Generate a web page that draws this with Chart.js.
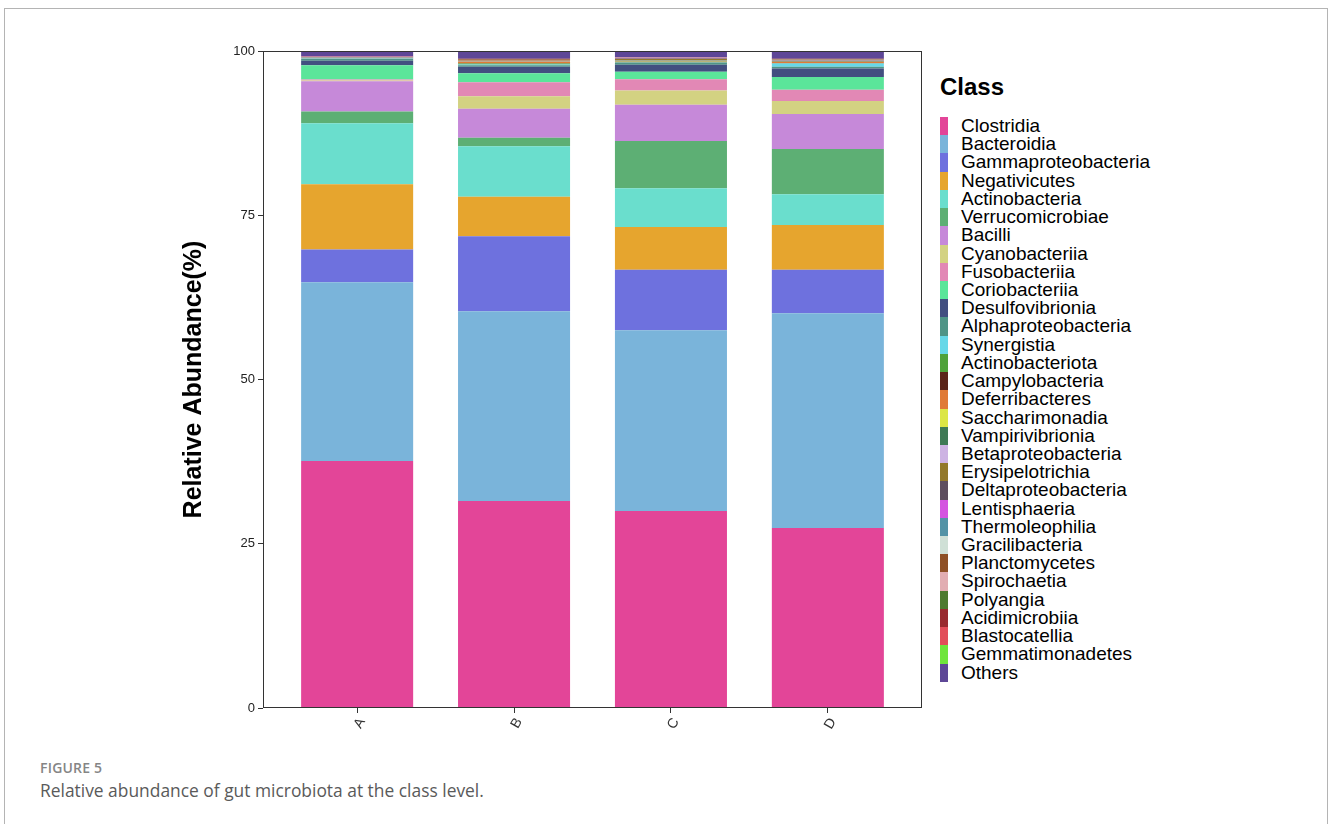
<!DOCTYPE html>
<html>
<head>
<meta charset="utf-8">
<script src="https://cdn.jsdelivr.net/npm/chart.js@4"></script>
<style>
  body { margin: 0; background: #fff; width: 1328px; height: 824px; overflow: hidden; position: relative; font-family: "Liberation Sans", Arial, sans-serif; }
  #frame { position: absolute; left: 4px; top: 8px; width: 1322px; height: 830px; border: 1px solid #b4b4b4; border-bottom: none; }
  #wrap { position: absolute; left: 170px; top: 40px; }
  #legend { position: absolute; left: 940px; top: 72px; color: #000; }
  #legend .ttl { font-weight: bold; font-size: 24px; line-height: 30px; margin-bottom: 15px; }
  #legend .row { position: relative; height: 18.23px; }
  #legend .key { position: absolute; left: 0; top: 0; width: 8px; height: 18.23px; }
  #legend .lbl { position: absolute; left: 21px; top: -1px; font-size: 19px; line-height: 19px; white-space: nowrap; }
  #cap1 { position: absolute; left: 40px; top: 758px; font-family: "Open Sans", sans-serif; font-size: 14px; font-weight: 600; color: #858585; letter-spacing: 0.2px; }
  #cap2 { position: absolute; left: 40px; top: 778px; font-family: "Open Sans", sans-serif; font-size: 17.4px; color: #5a5a5a; }
</style>
</head>
<body>
<div id="frame"></div>
<div id="wrap"><canvas id="abundanceChart" width="754" height="716"></canvas></div>
<div id="legend"></div>
<div id="cap1">FIGURE 5</div>
<div id="cap2">Relative abundance of gut microbiota at the class level.</div>
<script>
// groups on the x axis
const groups = ["A", "B", "C", "D"];
const yTicks = [0, 25, 50, 75, 100];

// class names, bottom of the stack first
const classNames = [
  "Clostridia", "Bacteroidia", "Gammaproteobacteria", "Negativicutes", "Actinobacteria",
  "Verrucomicrobiae", "Bacilli", "Cyanobacteriia", "Fusobacteriia", "Coriobacteriia",
  "Desulfovibrionia", "Alphaproteobacteria", "Synergistia", "Actinobacteriota", "Campylobacteria",
  "Deferribacteres", "Saccharimonadia", "Vampirivibrionia", "Betaproteobacteria", "Erysipelotrichia",
  "Deltaproteobacteria", "Lentisphaeria", "Thermoleophilia", "Gracilibacteria", "Planctomycetes",
  "Spirochaetia", "Polyangia", "Acidimicrobiia", "Blastocatellia", "Gemmatimonadetes", "Others"
];

const classColors = [
  "#E34598", "#7AB4DA", "#6E71DE", "#E6A52E", "#6ADECD",
  "#5DAF74", "#C689D9", "#D3D282", "#E288B5", "#5BE59A",
  "#424F80", "#4F9587", "#67D8E8", "#4FA23A", "#5B2419",
  "#E07A36", "#DCE645", "#3F7A55", "#CDB3E3", "#93792B",
  "#5E4E5F", "#D454E0", "#5393A6", "#CFE0D6", "#8E5026",
  "#E2ADB2", "#4E7A2F", "#992A2F", "#E24E5A", "#6FE53C", "#5E4797"
];

// relative abundance (%) per class, values for A, B, C, D
const clostridia          = [37.6, 31.5, 30.0, 27.4];
const bacteroidia         = [27.2, 28.9, 27.5, 32.7];
const gammaproteobacteria = [5.0, 11.4, 9.2, 6.6];
const negativicutes       = [9.9, 6.0, 6.5, 6.8];
const actinobacteria      = [9.3, 7.7, 5.9, 4.7];
const verrucomicrobiae    = [1.8, 1.3, 7.2, 6.9];
const bacilli             = [4.6, 4.4, 5.5, 5.3];
const cyanobacteriia      = [0.1, 1.9, 2.2, 2.0];
const fusobacteriia       = [0.15, 2.15, 1.7, 1.7];
const coriobacteriia      = [2.2, 1.35, 1.15, 1.95];
const desulfovibrionia    = [0.65, 1.0, 1.05, 1.3];
const alphaproteobacteria = [0.3, 0.25, 0.3, 0.25];
const synergistia         = [0.05, 0.1, 0.05, 0.5];
const actinobacteriota    = [0.02, 0.15, 0.05, 0.03];
const campylobacteria     = [0.02, 0.05, 0.03, 0.03];
const deferribacteres     = [0.03, 0.2, 0.05, 0.2];
const saccharimonadia     = [0.01, 0.02, 0.02, 0.02];
const vampirivibrionia    = [0.05, 0.05, 0.12, 0.05];
const betaproteobacteria  = [0.02, 0.02, 0.02, 0.02];
const erysipelotrichia    = [0.05, 0.1, 0.25, 0.05];
const deltaproteobacteria = [0.05, 0.03, 0.08, 0.03];
const lentisphaeria       = [0.01, 0.01, 0.01, 0.01];
const thermoleophilia     = [0.02, 0.02, 0.02, 0.1];
const gracilibacteria     = [0.01, 0.01, 0.01, 0.01];
const planctomycetes      = [0.01, 0.15, 0.03, 0.12];
const spirochaetia        = [0.02, 0.02, 0.02, 0.02];
const polyangia           = [0.01, 0.02, 0.02, 0.01];
const acidimicrobiia      = [0.01, 0.01, 0.01, 0.01];
const blastocatellia      = [0.01, 0.01, 0.01, 0.01];
const gemmatimonadetes    = [0.01, 0.01, 0.01, 0.01];
const others              = [0.79, 1.17, 0.99, 1.17];

const classValues = [
  clostridia, bacteroidia, gammaproteobacteria, negativicutes, actinobacteria,
  verrucomicrobiae, bacilli, cyanobacteriia, fusobacteriia, coriobacteriia,
  desulfovibrionia, alphaproteobacteria, synergistia, actinobacteriota, campylobacteria,
  deferribacteres, saccharimonadia, vampirivibrionia, betaproteobacteria, erysipelotrichia,
  deltaproteobacteria, lentisphaeria, thermoleophilia, gracilibacteria, planctomycetes,
  spirochaetia, polyangia, acidimicrobiia, blastocatellia, gemmatimonadetes, others
];

const datasets = classNames.map((name, i) => ({
  label: name,
  data: classValues[i].map((v, g) => ({ x: g, y: v })),
  backgroundColor: classColors[i],
  borderWidth: 0,
  barPercentage: 0.714,
  categoryPercentage: 1.0
}));

// box around the whole panel
const panelBorder = {
  id: "panelBorder",
  afterDraw(chart) {
    const { ctx, chartArea } = chart;
    ctx.save();
    ctx.strokeStyle = "#333";
    ctx.lineWidth = 1;
    ctx.strokeRect(Math.round(chartArea.left) + 0.5, Math.round(chartArea.top) + 0.5,
      Math.round(chartArea.width) - 1, Math.round(chartArea.height) - 1);
    ctx.restore();
  }
};

const ctx = document.getElementById("abundanceChart").getContext("2d");
const chart = new Chart(ctx, {
  type: "bar",
  data: { datasets: datasets },
  plugins: [panelBorder],
  options: {
    responsive: false,
    animation: false,
    layout: { padding: { top: 11, right: 2, bottom: 0, left: 0 } },
    plugins: {
      legend: { display: false },
      tooltip: { enabled: false }
    },
    scales: {
      x: {
        type: "linear",
        stacked: true,
        offset: false,
        min: -0.6,
        max: 3.6,
        afterBuildTicks: (axis) => { axis.ticks = groups.map((g, i) => ({ value: i })); },
        afterFit: (axis) => { axis.height = 48; },
        border: { display: false },
        grid: { display: true, offset: false, drawOnChartArea: false, drawTicks: true, tickLength: 5, color: "#333" },
        ticks: {
          callback: (v) => groups[v],
          minRotation: 60,
          maxRotation: 60,
          padding: 2,
          labelOffset: 5,
          color: "#333",
          font: { family: "Liberation Sans", size: 14 }
        }
      },
      y: {
        stacked: true,
        min: 0,
        max: 100,
        afterBuildTicks: (axis) => { axis.ticks = yTicks.map(v => ({ value: v })); },
        afterFit: (axis) => { axis.width = 93; },
        border: { display: false },
        grid: { display: true, drawOnChartArea: false, drawTicks: true, tickLength: 5, color: "#333" },
        ticks: {
          padding: 3,
          color: "#222",
          font: { family: "Liberation Sans", size: 13 }
        },
        title: {
          display: true,
          text: "Relative Abundance(%)",
          color: "#000",
          padding: { top: 9, bottom: 4 },
          font: { family: "Liberation Sans", size: 25, weight: "bold" }
        }
      }
    }
  }
});

// legend built from the chart's datasets, listed top to bottom in stack order
const legend = document.getElementById("legend");
legend.innerHTML = '<div class="ttl">Class</div>';
chart.data.datasets.forEach(ds => {
  const row = document.createElement("div");
  row.className = "row";
  row.innerHTML = '<span class="key" style="background:' + ds.backgroundColor + '"></span><span class="lbl">' + ds.label + '</span>';
  legend.appendChild(row);
});
</script>
</body>
</html>
